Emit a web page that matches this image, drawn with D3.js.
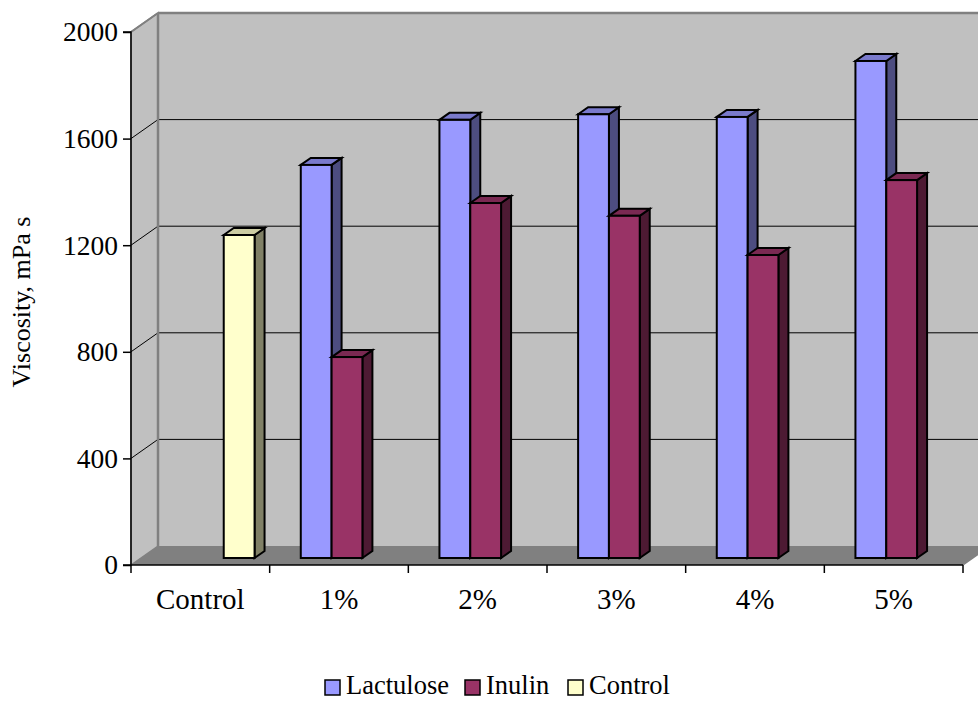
<!DOCTYPE html>
<html>
<head>
<meta charset="utf-8">
<script src="https://cdn.jsdelivr.net/npm/d3@7"></script>
<style>
  html, body { margin: 0; padding: 0; background: #fff; }
  svg { display: block; }
  svg text { font-family: "Liberation Serif", "Times New Roman", Times, "DejaVu Serif", serif; fill: #000; }
</style>
</head>
<body>
<svg id="chart" width="978" height="702"></svg>
<script>
// Viscosity of samples by additive concentration
const categories = ["Control", "1%", "2%", "3%", "4%", "5%"];
const seriesNames = ["Lactulose", "Inulin", "Control"];
const lactulose = [null, 1475, 1644, 1665, 1655, 1865];
const inulin    = [null, 754, 1332, 1284, 1137, 1418];
const control   = [1212, null, null, null, null, null];
const yTicks = [0, 400, 800, 1200, 1600, 2000];
const seriesColors = ["#9999FF", "#993366", "#FFFFCC"];

const seriesValues = [lactulose, inulin, control];
const FONT = '"Liberation Serif", "Times New Roman", Times, "DejaVu Serif", serif';

const svg = d3.select("#chart");

// plot frame (front plane) and 3D depth offsets
const plotLeft = 131, plotRight = 963, plotBottom = 565, plotTop = 32;
const depthX = 27, depthY = 19;          // full floor depth
const barFrontX = 8, barFrontY = 7;      // bar front face inset into floor
const barDepthX = 10, barDepthY = 7;     // bar thickness

const yAxisScale = d3.scaleLinear().domain([0, 2000]).range([plotBottom, plotTop]);
const yBack = d3.scaleLinear().domain([0, 2000]).range([plotBottom - depthY, plotTop - depthY]);
const yBar = d3.scaleLinear().domain([0, 2000]).range([plotBottom - barFrontY, plotTop - barFrontY]);

const x0 = d3.scaleBand().domain(categories).range([plotLeft, plotRight])
  .paddingInner(1 / 3).paddingOuter(1 / 6);
const x1 = d3.scaleBand().domain(seriesNames).range([0, x0.bandwidth()]);

const shade = (c, k) => { const r = d3.rgb(c); return d3.rgb(r.r * k, r.g * k, r.b * k).toString(); };

const g = svg.append("g");

// side wall (left)
g.append("polygon")
  .attr("points", [[plotLeft, plotBottom], [plotLeft, plotTop], [plotLeft + depthX, plotTop - depthY], [plotLeft + depthX, plotBottom - depthY]].join(" "))
  .attr("fill", "#c0c0c0").attr("stroke", "#808080").attr("stroke-width", 1.5);

// back wall
g.append("rect")
  .attr("x", plotLeft + depthX).attr("y", plotTop - depthY)
  .attr("width", plotRight - plotLeft).attr("height", plotBottom - plotTop)
  .attr("fill", "#c0c0c0");

// gridlines on back wall and side wall
yTicks.filter(t => t > 0 && t < 2000).forEach(t => {
  g.append("line")
    .attr("x1", plotLeft + depthX).attr("x2", plotRight + depthX)
    .attr("y1", yBack(t)).attr("y2", yBack(t))
    .attr("stroke", "#000").attr("stroke-width", 1);
  g.append("line")
    .attr("x1", plotLeft).attr("x2", plotLeft + depthX)
    .attr("y1", yAxisScale(t)).attr("y2", yBack(t))
    .attr("stroke", "#000").attr("stroke-width", 1);
});

// wall edges
g.append("line").attr("x1", plotLeft + depthX).attr("x2", plotLeft + depthX)
  .attr("y1", plotTop - depthY).attr("y2", plotBottom - depthY)
  .attr("stroke", "#808080").attr("stroke-width", 2.5);
g.append("line").attr("x1", plotLeft + depthX).attr("x2", plotRight + depthX)
  .attr("y1", plotTop - depthY).attr("y2", plotTop - depthY)
  .attr("stroke", "#808080").attr("stroke-width", 2.5);
g.append("line").attr("x1", plotLeft).attr("x2", plotLeft + depthX)
  .attr("y1", plotTop).attr("y2", plotTop - depthY)
  .attr("stroke", "#808080").attr("stroke-width", 2);

// floor
g.append("polygon")
  .attr("points", [[plotLeft, plotBottom], [plotRight, plotBottom], [plotRight + depthX, plotBottom - depthY], [plotLeft + depthX, plotBottom - depthY]].join(" "))
  .attr("fill", "#808080");
g.append("line").attr("x1", plotRight).attr("x2", plotRight + depthX)
  .attr("y1", plotBottom).attr("y2", plotBottom - depthY)
  .attr("stroke", "#808080").attr("stroke-width", 1.5);

// bars, drawn left to right so each side face is covered by the next front face
const bars = [];
categories.forEach((c, ci) => {
  seriesNames.forEach((s, si) => {
    const v = seriesValues[si][ci];
    if (v == null) return;
    bars.push({ c, s, v, color: seriesColors[si] });
  });
});

const barG = g.append("g");
bars.forEach(b => {
  const bx0 = x0(b.c) + x1(b.s) + barFrontX;
  const bx1 = bx0 + x1.bandwidth();
  const yb = yBar(0), yt = yBar(b.v);
  const bg = barG.append("g")
    .attr("stroke", "#000").attr("stroke-width", 2).attr("stroke-linejoin", "miter");
  // side face
  bg.append("polygon")
    .attr("points", [[bx1, yb], [bx1 + barDepthX, yb - barDepthY], [bx1 + barDepthX, yt - barDepthY], [bx1, yt]].join(" "))
    .attr("fill", shade(b.color, 0.5));
  // top face
  bg.append("polygon")
    .attr("points", [[bx0, yt], [bx0 + barDepthX, yt - barDepthY], [bx1 + barDepthX, yt - barDepthY], [bx1, yt]].join(" "))
    .attr("fill", shade(b.color, 0.8));
  // front face
  bg.append("rect")
    .attr("x", bx0).attr("y", yt).attr("width", bx1 - bx0).attr("height", yb - yt)
    .attr("fill", b.color);
});

// value axis
const yAxis = d3.axisLeft(yAxisScale).tickValues(yTicks).tickSize(8).tickPadding(5).tickFormat(d3.format("d"));
const yAxisG = svg.append("g").attr("transform", `translate(${plotLeft},0)`).call(yAxis)
  .attr("font-family", FONT).attr("font-size", 27.5);
yAxisG.select(".domain").attr("stroke", "#000").attr("stroke-width", 1.5).attr("d", `M-8,${plotTop}H0V${plotBottom}H-8`);
yAxisG.selectAll(".tick line").attr("stroke", "#000").attr("stroke-width", 1.5);
yAxisG.selectAll(".tick text").attr("fill", "#000");

// category axis
const xAxisScale = d3.scaleLinear().domain([0, categories.length]).range([plotLeft, plotRight]);
const xAxisG = svg.append("g").attr("font-family", FONT);
xAxisG.append("line").attr("x1", plotLeft).attr("x2", plotRight).attr("y1", plotBottom).attr("y2", plotBottom)
  .attr("stroke", "#000").attr("stroke-width", 1.5);
d3.range(categories.length + 1).forEach(i => {
  xAxisG.append("line")
    .attr("x1", xAxisScale(i)).attr("x2", xAxisScale(i))
    .attr("y1", plotBottom).attr("y2", plotBottom + 8)
    .attr("stroke", "#000").attr("stroke-width", 1.5);
});
xAxisG.selectAll("text.cat").data(categories).join("text")
  .attr("class", "cat")
  .attr("x", d => x0(d) + x0.bandwidth() / 2)
  .attr("y", 609)
  .attr("text-anchor", "middle")
  .attr("font-size", 29)
  .text(d => d);

// axis title
svg.append("text")
  .attr("transform", "translate(30,302) rotate(-90)")
  .attr("text-anchor", "middle")
  .attr("font-family", FONT)
  .attr("font-size", 26)
  .text("Viscosity, mPa s");

// legend
const legendItems = [
  { name: "Lactulose", color: seriesColors[0], x: 325 },
  { name: "Inulin", color: seriesColors[1], x: 465 },
  { name: "Control", color: seriesColors[2], x: 568 }
];
const lg = svg.append("g").attr("font-family", FONT);
legendItems.forEach(it => {
  lg.append("rect").attr("x", it.x).attr("y", 680).attr("width", 15).attr("height", 15)
    .attr("fill", it.color).attr("stroke", "#000").attr("stroke-width", 1.5);
  lg.append("text").attr("x", it.x + 21).attr("y", 694).attr("font-size", 26.5).text(it.name);
});
</script>
</body>
</html>
